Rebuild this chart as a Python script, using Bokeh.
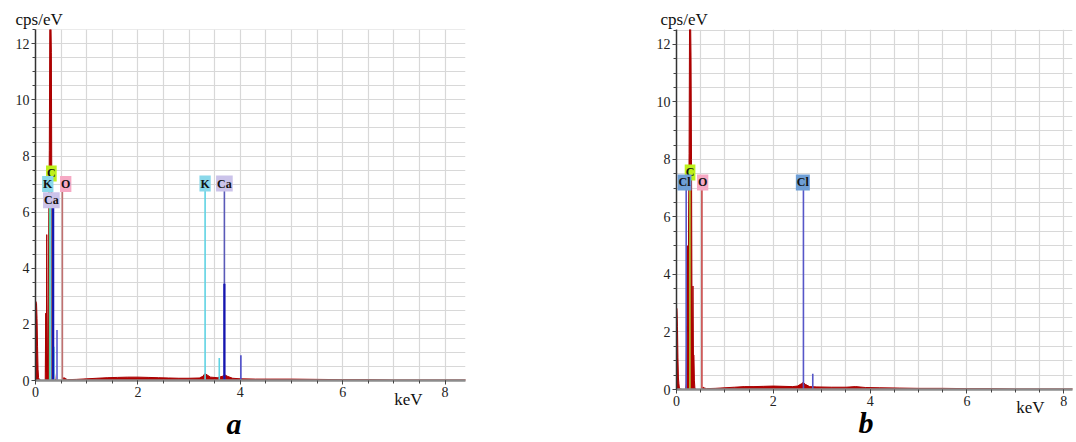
from bokeh.plotting import figure
from bokeh.models import Label, SingleIntervalTicker, Range1d, ColumnDataSource, Title
from bokeh.layouts import row
from bokeh.embed import file_html
from bokeh.resources import INLINE

# ---------------- data: panel a ----------------
spec_a_keV = [0.00, 0.01, 0.02, 0.03, 0.04, 0.05, 0.06, 0.08, 0.12, 0.19,
              0.20, 0.21, 0.22, 0.23, 0.24, 0.25, 0.26, 0.27, 0.28, 0.29,
              0.30, 0.31, 0.32, 0.33, 0.34, 0.35, 0.36, 0.37, 0.38, 0.40,
              0.45, 0.52, 0.55, 0.58, 0.62, 0.80, 1.00, 1.20, 1.40, 1.60,
              1.80, 2.00, 2.20, 2.40, 2.60, 2.80, 3.00, 3.20, 3.27, 3.31,
              3.35, 3.42, 3.55, 3.65, 3.70, 3.75, 3.85, 4.00, 4.30, 4.60,
              5.00, 5.50, 6.00, 6.50, 7.00, 7.50, 8.00, 8.45]
spec_a_cps = [2.85, 2.80, 2.75, 2.20, 1.20, 0.40, 0.10, 0.02, 0.00, 0.00,
              2.40, 0.30, 5.20, 0.50, 1.00, 3.00, 6.00, 8.20, 13.0, 13.0,
              13.0, 11.7, 6.00, 1.50, 1.10, 0.60, 1.10, 0.30, 0.05, 0.00,
              0.00, 0.00, 0.10, 0.08, 0.03, 0.04, 0.06, 0.08, 0.10, 0.11,
              0.12, 0.12, 0.11, 0.10, 0.09, 0.08, 0.08, 0.09, 0.15, 0.25,
              0.20, 0.12, 0.10, 0.15, 0.20, 0.15, 0.08, 0.06, 0.05, 0.05,
              0.05, 0.04, 0.03, 0.03, 0.02, 0.02, 0.02, 0.02]

mark_a_keV = [0.277, 0.297, 0.341, 0.525, 3.313, 3.690, 3.590, 4.012, 0.420, 0.365]
mark_a_top = [7.15, 6.80, 6.20, 6.80, 6.80, 6.80, 0.80, 0.90, 1.80, 1.20]
mark_a_color = ["#4fd890", "#5fd3e3", "#5a5ac0", "#c07070", "#5fd3e3",
                "#5a5ab8", "#5fd3e3", "#4b4bc8", "#5a5ad0", "#8ae0ea"]
over_a_keV = [0.345, 3.690]
over_a_top = [6.20, 3.45]

lab_a_text = ["C", "K", "O", "Ca", "K", "Ca"]
lab_a_x = [0.31, 0.24, 0.59, 0.31, 3.313, 3.69]
lab_a_y = [7.38, 7.00, 7.00, 6.42, 7.02, 7.02]
lab_a_bg = ["#bdf01a", "#8ad8ea", "#f6a9c4", "#cbc3ea", "#8ad8ea", "#cbc3ea"]

# ---------------- data: panel b ----------------
spec_b_keV = [0.00, 0.01, 0.02, 0.03, 0.04, 0.05, 0.06, 0.08, 0.12, 0.19,
              0.20, 0.21, 0.22, 0.23, 0.24, 0.25, 0.26, 0.27, 0.28, 0.29,
              0.30, 0.31, 0.32, 0.33, 0.34, 0.35, 0.36, 0.37, 0.38, 0.40,
              0.45, 0.52, 0.55, 0.58, 0.62, 0.80, 1.00, 1.20, 1.40, 1.60,
              1.80, 2.00, 2.20, 2.40, 2.50, 2.58, 2.62, 2.66, 2.75, 2.90,
              3.20, 3.50, 3.70, 3.90, 4.20, 4.60, 5.00, 5.50, 6.00, 6.50,
              7.00, 7.50, 8.00, 8.30]
spec_b_cps = [2.85, 2.80, 2.20, 1.10, 0.40, 0.20, 0.05, 0.02, 0.00, 0.00,
              0.20, 2.20, 0.50, 5.00, 2.00, 6.00, 8.20, 13.0, 13.0, 13.0,
              11.6, 8.00, 3.00, 1.20, 3.60, 1.20, 1.20, 0.30, 0.05, 0.00,
              0.00, 0.00, 0.08, 0.05, 0.03, 0.04, 0.06, 0.08, 0.10, 0.10,
              0.11, 0.12, 0.11, 0.10, 0.12, 0.20, 0.25, 0.18, 0.10, 0.09,
              0.08, 0.08, 0.10, 0.07, 0.06, 0.05, 0.04, 0.04, 0.03, 0.03,
              0.02, 0.02, 0.02, 0.02]

mark_b_keV = [0.200, 0.277, 0.525, 2.622, 2.815]
mark_b_top = [7.00, 7.30, 7.00, 7.00, 0.55]
mark_b_color = ["#5656c8", "#a8cc30", "#c84848", "#5656c8", "#5656c8"]

lab_b_text = ["C", "Cl", "O", "Cl"]
lab_b_x = [0.28, 0.165, 0.54, 2.61]
lab_b_y = [7.55, 7.20, 7.20, 7.20]
lab_b_bg = ["#bdf01a", "#6f9fd6", "#f6a9c4", "#6f9fd6"]

SERIF = "Liberation Serif"


def make_panel(keV, cps, mk, mt, mc, lt, lx, ly, lbg, xend, yend,
               fw, fh, bl, br, bt, bb,
               ylab_off, klab_off, klab_standoff, plab, plab_off, plab_standoff,
               ok=None, ot=None):
    p = figure(frame_width=fw, frame_height=fh, min_border_left=bl,
               min_border_right=br, min_border_top=bt, min_border_bottom=bb,
               x_range=Range1d(0, xend), y_range=Range1d(0, yend),
               output_backend="svg", toolbar_location=None,
               background_fill_color="white", border_fill_color="white")
    p.outline_line_color = None

    for ax in (p.xaxis, p.yaxis):
        ax.ticker = SingleIntervalTicker(interval=2, num_minor_ticks=4)
        ax.major_label_text_font = SERIF
        ax.major_label_text_font_size = "14px"
        ax.major_label_text_color = "#222222"
        ax.major_tick_line_color = "#444444"
        ax.minor_tick_line_color = "#444444"
        ax.major_tick_in = 0
        ax.minor_tick_in = 0
        ax.major_tick_out = 4
        ax.minor_tick_out = 3
        ax.major_label_standoff = 2
    p.yaxis.axis_line_color = "#333333"
    p.yaxis.axis_line_width = 1.5
    p.xaxis.axis_line_color = "#8c8c8c"
    p.xaxis.axis_line_width = 2.5

    p.xgrid.ticker = SingleIntervalTicker(interval=0.5)
    p.ygrid.ticker = SingleIntervalTicker(interval=0.5)
    p.xgrid.grid_line_color = "#d8d8d8"
    p.ygrid.grid_line_color = "#d8d8d8"
    p.xgrid.grid_line_width = 1.2
    p.ygrid.grid_line_width = 1.2

    src = ColumnDataSource(dict(x=keV, y=cps))
    p.varea(x="x", y1=0, y2="y", source=src, fill_color="#b30000")
    p.line(x="x", y="y", source=src, line_color="#a80000", line_width=1)

    msrc = ColumnDataSource(dict(x=mk, top=mt, c=mc))
    p.segment(x0="x", y0=0, x1="x", y1="top", source=msrc,
              line_color="c", line_width=1.6)
    if ok is not None:
        osrc = ColumnDataSource(dict(x=ok, top=ot))
        p.segment(x0="x", y0=0, x1="x", y1="top", source=osrc,
                  line_color="#1515b0", line_width=2.2)

    for t, x, y, bg in zip(lt, lx, ly, lbg):
        p.add_layout(Label(x=x, y=y, text=t, text_align="center",
                           text_baseline="middle", text_font=SERIF,
                           text_font_style="bold", text_font_size="12px",
                           text_color="#111111", background_fill_color=bg,
                           padding=1))

    p.add_layout(Title(text="cps/eV", align="left", offset=ylab_off,
                       vertical_align="bottom", standoff=2,
                       text_font=SERIF, text_font_size="17px",
                       text_font_style="normal", text_color="#111111"),
                 "above")
    p.add_layout(Title(text="keV", align="right", offset=klab_off,
                       vertical_align="top", standoff=klab_standoff,
                       text_font=SERIF, text_font_size="17px",
                       text_font_style="normal", text_color="#111111"),
                 "below")
    p.add_layout(Title(text=plab, align="left", offset=plab_off,
                       vertical_align="bottom", standoff=plab_standoff,
                       text_font=SERIF, text_font_size="30px",
                       text_font_style="bold italic", text_color="#000000"),
                 "below")
    return p


pa = make_panel(spec_a_keV, spec_a_cps, mark_a_keV, mark_a_top, mark_a_color,
                lab_a_text, lab_a_x, lab_a_y, lab_a_bg,
                xend=8.4, yend=12.51, fw=430, fh=351, bl=35, br=163, bt=29, bb=62,
                ylab_off=-20, klab_off=43, klab_standoff=-19,
                plab="a", plab_off=191, plab_standoff=6,
                ok=over_a_keV, ot=over_a_top)

pb = make_panel(spec_b_keV, spec_b_cps, mark_b_keV, mark_b_top, mark_b_color,
                lab_b_text, lab_b_x, lab_b_y, lab_b_bg,
                xend=8.18, yend=12.52, fw=396, fh=360, bl=48, br=2, bt=28, bb=54,
                ylab_off=-16, klab_off=28, klab_standoff=-21,
                plab="b", plab_off=182, plab_standoff=-10)

layout = row(pa, pb)
open("out.html", "w").write(file_html(layout, INLINE))
